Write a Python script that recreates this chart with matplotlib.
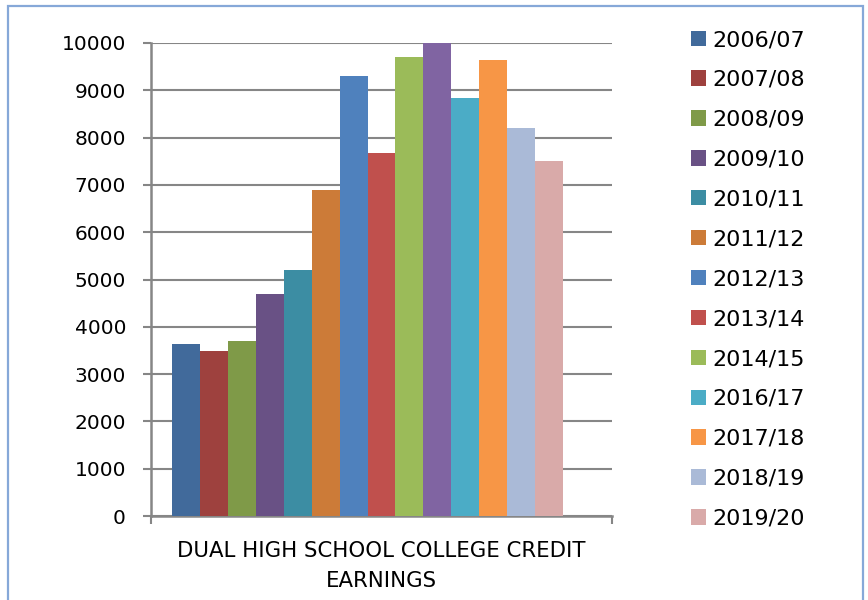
import matplotlib
matplotlib.use("Agg")
import matplotlib.pyplot as plt
from matplotlib.patches import Patch, Rectangle

# School years and dual-credit earnings per year
years = ["2006/07", "2007/08", "2008/09", "2009/10", "2010/11", "2011/12",
         "2012/13", "2013/14", "2014/15", "2015/16", "2016/17", "2017/18",
         "2018/19", "2019/20"]
earnings = [3640, 3490, 3700, 4700, 5200, 6900, 9300, 7670, 9700, 10000,
            8840, 9640, 8200, 7500]
# years listed in the legend
legend_years = ["2006/07", "2007/08", "2008/09", "2009/10", "2010/11", "2011/12",
                "2012/13", "2013/14", "2014/15", "2016/17", "2017/18",
                "2018/19", "2019/20"]
yticks = [0, 1000, 2000, 3000, 4000, 5000, 6000, 7000, 8000, 9000, 10000]
category = "DUAL HIGH SCHOOL COLLEGE CREDIT\nEARNINGS"

colors = ["#416A9B", "#9E413E", "#7F9A48", "#695185", "#3C8DA3", "#CC7B38",
          "#4F81BD", "#C0504D", "#9BBB59", "#8064A2", "#4BACC6", "#F79646",
          "#AABAD7", "#D9AAA9"]

plt.rcParams["font.family"] = ["DejaVu Sans"]
W, H = 868, 600
fig = plt.figure(figsize=(W / 100, H / 100), dpi=100)

# outer chart border
fig.patches.append(Rectangle((8 / W, -0.05), (863 - 8) / W, (600 - 6) / H + 0.05,
                             transform=fig.transFigure, fill=False,
                             edgecolor="#86A8D8", linewidth=1.6))

ax = fig.add_axes([151 / W, 1 - 516 / H, (612 - 151) / W, (516 - 43) / H])
grey = "#868686"

positions = list(range(len(years)))
bars = ax.bar(positions, earnings, width=1.0, color=colors, zorder=3)

bw = 391 / 14
ax.set_xlim(-0.5 - 21 / bw, len(years) - 0.5 + 49 / bw)
ax.set_ylim(0, 10000)
ax.set_yticks(yticks)
ax.set_yticklabels([str(v) for v in yticks], fontsize=14.5)
ax.yaxis.grid(True, color=grey, linewidth=1.5, zorder=0)
ax.set_axisbelow(True)

xl = ax.get_xlim()
ax.set_xticks(list(xl))
ax.set_xticklabels(["", ""])
ax.tick_params(axis="x", direction="out", length=6, width=1.5, color=grey)
ax.tick_params(axis="y", direction="out", length=6, width=1.5, color=grey, pad=12)

for s in ["top", "right"]:
    ax.spines[s].set_visible(False)
for s in ["left", "bottom"]:
    ax.spines[s].set_color(grey)
    ax.spines[s].set_linewidth(1.8)

fig.text((151 + 612) / 2 / W, 1 - 566 / H, category, ha="center", va="center",
         fontsize=15.3, linespacing=1.6)

handles = [Patch(facecolor=colors[years.index(y)], edgecolor="none", label=y)
           for y in legend_years]
fig.legend(handles=handles, loc="upper left",
           bbox_to_anchor=(691 / W, 1 - 30 / H), frameon=False,
           fontsize=16, handlelength=0.68, handleheight=0.68,
           handletextpad=0.27, labelspacing=0.895, borderpad=0, borderaxespad=0)

fig.savefig("out.png", dpi=100)
